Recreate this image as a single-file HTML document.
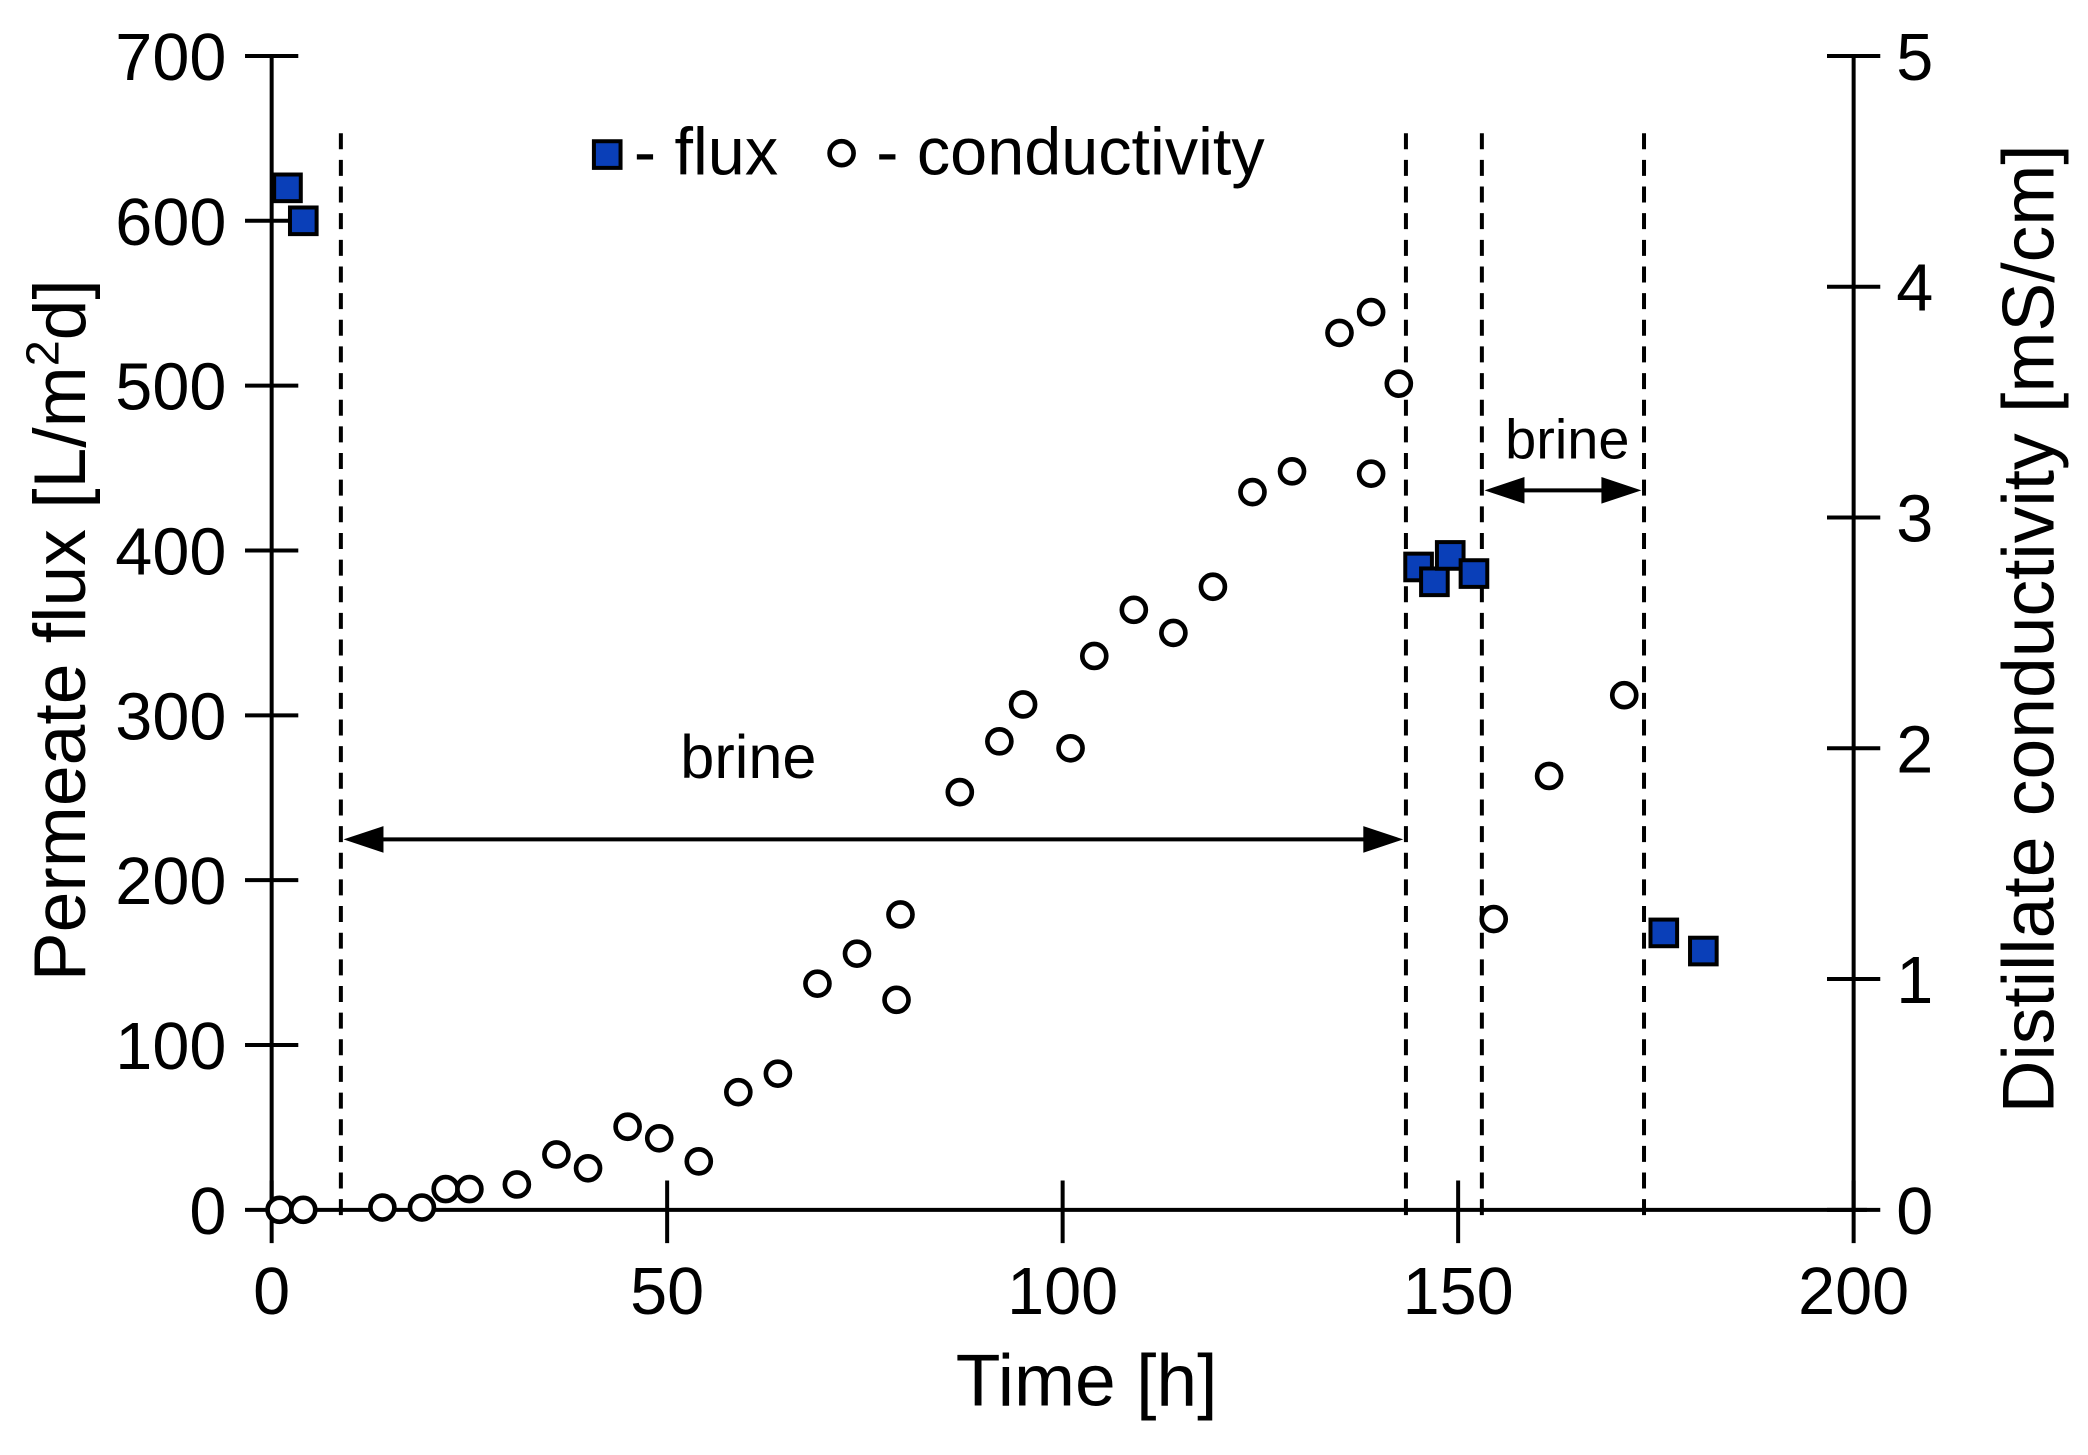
<!DOCTYPE html>
<html><head><meta charset="utf-8"><style>
html,body{margin:0;padding:0;background:#fff}
svg{display:block}
text{font-family:"Liberation Sans",Arial,sans-serif;fill:#000}
</style></head><body>
<svg id="chart" width="2088" height="1455" viewBox="0 0 1568 1092" preserveAspectRatio="none" xmlns="http://www.w3.org/2000/svg">
<g id="axes"></g>
<g id="marks"></g>
</svg>
<script>
const fluxTime=[2,4,145,147,149,152,176,181];
const fluxValues=[620,600,390,381,397,386,168,157];
const condTime=[1,4,14,19,22,25,31,36,40,45,49,54,59,64,69,74,79,79.5,87,92,95,101,104,109,114,119,124,129,135,139,139,142.5,154.5,161.5,171];
const condValues=[0,0,0.01,0.01,0.09,0.09,0.11,0.24,0.18,0.36,0.31,0.21,0.51,0.59,0.98,1.11,0.91,1.28,1.81,2.03,2.19,2.0,2.40,2.60,2.50,2.70,3.11,3.20,3.80,3.89,3.19,3.58,1.26,1.88,2.23];
const xTicks=[0,50,100,150,200];
const yLeftTicks=[0,100,200,300,400,500,600,700];
const yRightTicks=[0,1,2,3,4,5];
const phaseLines=[8.75,143.4,153,173.5];

const L=204,R=1392,T=42,B=908;
const x=v=>L+(R-L)*v/200;
const yl=v=>B-(B-T)*v/700;
const yr=v=>B-(B-T)*v/5;
const NS="http://www.w3.org/2000/svg";
const axes=document.getElementById('axes'), marks=document.getElementById('marks');
function mk(tag,attrs,parent,txt){const e=document.createElementNS(NS,tag);for(const k in attrs)e.setAttribute(k,attrs[k]);if(txt!==undefined)e.textContent=txt;parent.appendChild(e);return e;}

let e;
e=mk('line',{x1:L,y1:T,x2:L,y2:B,stroke:'#000','stroke-width':3},axes);


e=mk('line',{x1:R,y1:T,x2:R,y2:B,stroke:'#000','stroke-width':3},axes);


e=mk('line',{x1:L,y1:B,x2:R+10,y2:B,stroke:'#000','stroke-width':3},axes);



xTicks.forEach(v=>{
 e=mk('line',{x1:x(v),y1:B-22,x2:x(v),y2:B+25,stroke:'#000','stroke-width':3},axes);
 
 
 e=mk('text',{x:x(v),y:B+78,'font-size':50,'text-anchor':'middle'},axes,String(v));
 
 
});
yLeftTicks.forEach(v=>{
 e=mk('line',{x1:L-20,y1:yl(v),x2:L+20,y2:yl(v),stroke:'#000','stroke-width':3},axes);
 
 
 e=mk('text',{x:L-34,y:yl(v)+18,'font-size':50,'text-anchor':'end'},axes,String(v));
 
 
});
yRightTicks.forEach(v=>{
 e=mk('line',{x1:R-20,y1:yr(v),x2:R+20,y2:yr(v),stroke:'#000','stroke-width':3},axes);
 
 
 e=mk('text',{x:R+32,y:yr(v)+18,'font-size':50,'text-anchor':'start'},axes,String(v));
 
 
});
e=mk('text',{x:816,y:1055,'font-size':55,'text-anchor':'middle'},axes,'Time [h]');


e=mk('text',{x:0,y:0,'font-size':55,'text-anchor':'middle',transform:'translate(64,473) rotate(-90)'},axes);


e.innerHTML='Permeate flux [L/m<tspan dy="-20" font-size="35">2</tspan><tspan dy="20">d]</tspan>';
e=mk('text',{x:0,y:0,'font-size':55,'text-anchor':'middle',transform:'translate(1542,472) rotate(-90)'},axes,'Distillate conductivity [mS/cm]');



phaseLines.forEach(v=>{
 e=mk('line',{x1:x(v),y1:100,x2:x(v),y2:B+10,stroke:'#000','stroke-width':3,'stroke-dasharray':'12,8'},marks);
 
 
});
function arrow(a,b,yy,name){
 e=mk('line',{x1:x(a)+30,y1:yy,x2:x(b)-30,y2:yy,stroke:'#000','stroke-width':3},marks);
 
 
 e=mk('polygon',{points:`${x(a)+2},${yy} ${x(a)+32},${yy-10} ${x(a)+32},${yy+10}`,fill:'#000'},marks);
 
 
 e=mk('polygon',{points:`${x(b)-2},${yy} ${x(b)-32},${yy-10} ${x(b)-32},${yy+10}`,fill:'#000'},marks);
 
 
}
arrow(phaseLines[0],phaseLines[1],630,'brine-arrow-1');
arrow(phaseLines[2],phaseLines[3],368,'brine-arrow-2');
e=mk('text',{x:562,y:584,'font-size':46,'text-anchor':'middle'},marks,'brine');


e=mk('text',{x:1177,y:344,'font-size':42,'text-anchor':'middle'},marks,'brine');



condTime.forEach((t,i)=>{
 e=mk('circle',{cx:x(t),cy:yr(condValues[i]),r:9,fill:'#fff',stroke:'#000','stroke-width':3.5},marks);
 
 
});
fluxTime.forEach((t,i)=>{
 e=mk('rect',{x:x(t)-10,y:yl(fluxValues[i])-10,width:20,height:20,fill:'#0a3fb8',stroke:'#000','stroke-width':3},marks);
 
 
});

e=mk('rect',{x:446,y:106,width:20,height:20,fill:'#0a3fb8',stroke:'#000','stroke-width':3},marks);


e=mk('text',{x:476,y:131,'font-size':50},marks,'- flux');


e=mk('circle',{cx:632,cy:115,r:9,fill:'#fff',stroke:'#000','stroke-width':3.5},marks);


e=mk('text',{x:658,y:131,'font-size':50},marks,'- conductivity');


</script>
</body></html>
